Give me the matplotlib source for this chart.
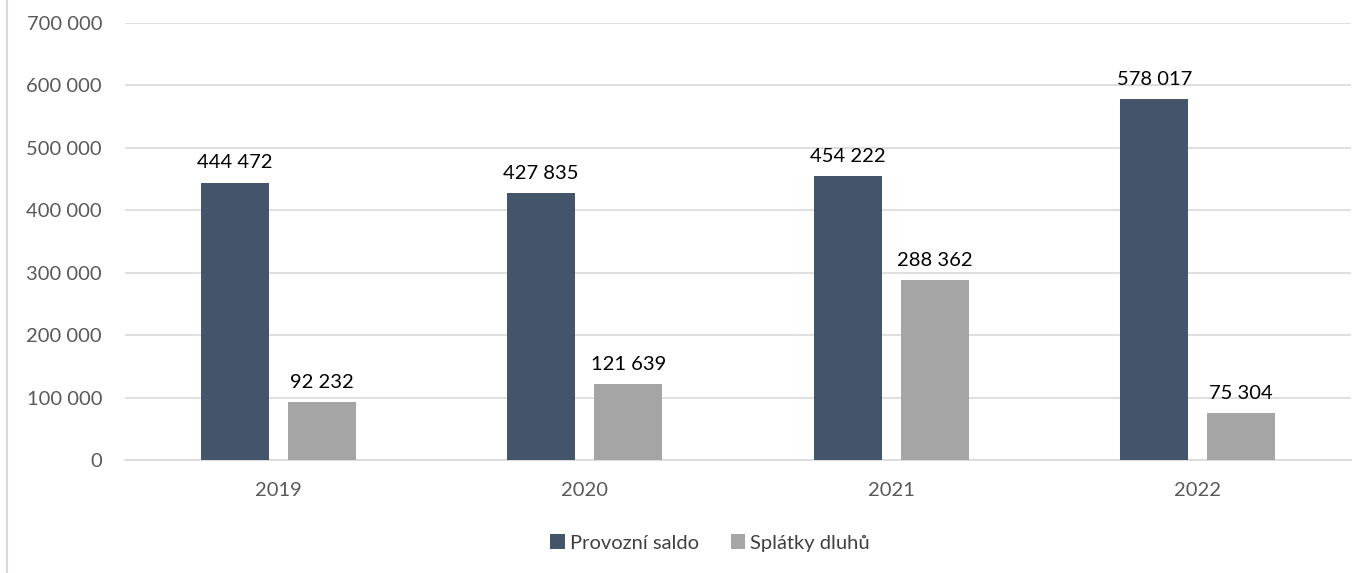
import matplotlib
matplotlib.use("Agg")
import matplotlib.pyplot as plt
from matplotlib.lines import Line2D
import numpy as np

years = ["2019", "2020", "2021", "2022"]
provozni_saldo = [444472, 427835, 454222, 578017]
splatky_dluhu = [92232, 121639, 288362, 75304]
series_names = ["Provozní saldo", "Splátky dluhů"]
colors = ["#44546A", "#A5A5A5"]
yticks = [0, 100000, 200000, 300000, 400000, 500000, 600000, 700000]

plt.rcParams['font.family'] = ['Lato', 'DejaVu Sans']

def fmt(v):
    return f"{v:,}".replace(",", " ")

fig = plt.figure(figsize=(13.7, 5.73), dpi=100)
ax = fig.add_axes([125/1370, 1 - 460/573, (1351-125)/1370, (460-23)/573])

x = np.arange(len(years))
w = 0.222
gap = 0.062
off = (w + gap) / 2
for vals, name, c, d in [(provozni_saldo, series_names[0], colors[0], -off),
                         (splatky_dluhu, series_names[1], colors[1], off)]:
    bars = ax.bar(x + d, vals, width=w, color=c, label=name, zorder=3)
    for b, v in zip(bars, vals):
        ax.annotate(fmt(v), (b.get_x() + b.get_width()/2, v), xytext=(0, 8),
                    textcoords="offset points", ha="center", va="bottom",
                    fontsize=14.5, color="#000000")

ax.set_xlim(-0.5, len(years) - 0.5)
ax.set_ylim(0, 700000)
ax.set_yticks(yticks)
ax.set_yticklabels([fmt(t) for t in yticks])
ax.set_xticks(x)
ax.set_xticklabels(years)
ax.tick_params(axis='both', length=0, labelsize=14.5, colors="#595959")
ax.tick_params(axis='y', pad=16.5)
ax.tick_params(axis='x', pad=16)
ax.grid(axis='y', color="#D9D9D9", linewidth=1.2, zorder=0)
for s in ["top", "right", "left"]:
    ax.spines[s].set_visible(False)
ax.spines["bottom"].set_color("#D9D9D9")
ax.spines["bottom"].set_linewidth(1.2)

fig.add_artist(Line2D([7/1370, 7/1370], [0, 1], color="#D9D9D9", linewidth=1.5))

leg = fig.legend(loc="center", bbox_to_anchor=(710/1370, 1 - 543/573), ncol=2,
                 frameon=False, fontsize=14.5, handlelength=0.7, handleheight=0.7,
                 handletextpad=0.25, columnspacing=1.6)
for t in leg.get_texts():
    t.set_color("#404040")

fig.savefig("out.png", dpi=100)
